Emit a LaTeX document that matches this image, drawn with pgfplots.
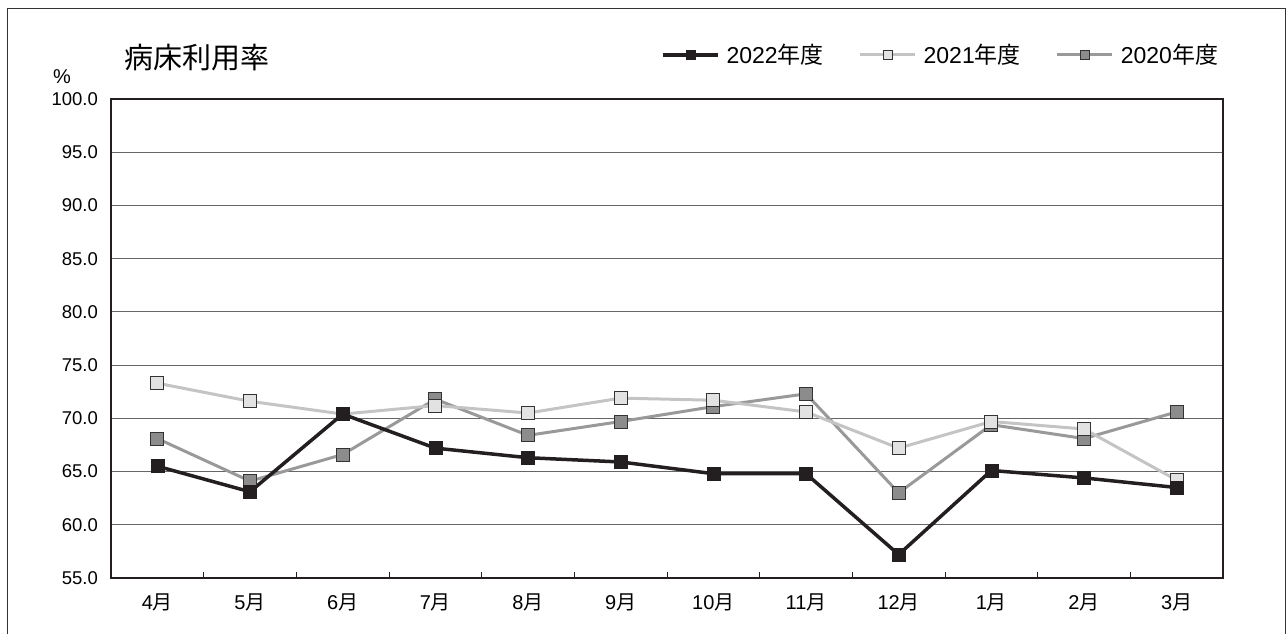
\documentclass[border=0pt]{standalone}
\usepackage{fontspec}
\setmainfont{Liberation Sans}
\newfontfamily\jp{Noto Sans CJK JP}
\usepackage{pgfplots}
\pgfplotsset{compat=1.18}
\usepackage{pgfplotstable}
\definecolor{cblack}{HTML}{231F20}
\definecolor{cgrid}{HTML}{666666}
\definecolor{c21line}{HTML}{C4C4C4}
\definecolor{c21fill}{HTML}{E2E2E2}
\definecolor{c20line}{HTML}{999999}
\definecolor{c20fill}{HTML}{8C8C8C}
\definecolor{cedge}{HTML}{333333}
\newcommand\tsuki{{\jp 月}}
\newcommand\nendo{{\jp 年度}}

\pgfplotstableread{
x y2022 y2021 y2020
0  65.5 73.3 68.1
1  63.1 71.6 64.1
2  70.4 70.4 66.6
3  67.2 71.2 71.8
4  66.3 70.5 68.4
5  65.9 71.9 69.7
6  64.8 71.7 71.1
7  64.8 70.6 72.3
8  57.2 67.2 63.0
9  65.1 69.7 69.4
10 64.4 69.0 68.1
11 63.5 64.2 70.6
}\datatable

\begin{document}
\begin{tikzpicture}
\path[use as bounding box] (0,0) rectangle (1287pt,634pt);
\draw[line width=1pt, cedge] (7.5pt,-2pt) -- (7.5pt,625pt) -- (1285.5pt,625pt) -- (1285.5pt,-2pt);
\begin{axis}[
  at={(111pt,56pt)}, anchor=south west,
  scale only axis, width=1112pt, height=479pt,
  xmin=-0.5, xmax=11.5, ymin=55, ymax=100,
  xtick={0,...,11},
  xticklabels={4\tsuki,5\tsuki,6\tsuki,7\tsuki,8\tsuki,9\tsuki,10\tsuki,11\tsuki,12\tsuki,1\tsuki,2\tsuki,3\tsuki},
  minor xtick={0.5,1.5,...,10.5},
  ytick={55,60,...,100},
  major tick length=0pt,
  minor tick length=6pt,
  tick align=inside,
  xtick pos=bottom, ytick pos=left,
  minor tick style={line width=1pt, cblack},
  ymajorgrids,
  grid style={line width=0.9pt, cgrid},
  axis line style={line width=2pt, cblack},
  /pgf/number format/assume math mode=true,
  yticklabel style={/pgf/number format/fixed, /pgf/number format/fixed zerofill, /pgf/number format/precision=1,
    font=\fontsize{18.5}{18.5}\selectfont, anchor=east, inner sep=0pt, xshift=-13pt},
  xticklabel style={font=\fontsize{20}{20}\selectfont, anchor=center, inner sep=0pt, yshift=-24pt},
  reverse legend,
  legend columns=3,
  legend style={draw=none, fill=none, inner sep=0pt, outer sep=0pt,
    at={(axis description cs:0.9955,1.092)}, anchor=east,
    font=\fontsize{23}{23}\selectfont,
    nodes={inner sep=0pt},
    /tikz/every odd column/.append style={column sep=7pt},
    /tikz/every even column/.append style={column sep=35pt}},
  legend image code/.code={
    \draw[#1] (0pt,0pt) -- (55pt,0pt);
    \draw[#1, mark size=4.5pt] plot coordinates {(27.5pt,0pt)};
  },
]
\addplot[c20line, line width=3pt, mark=square*, mark size=6.5pt,
  mark options={fill=c20fill, draw=cedge, line width=1pt}]
  table[x=x, y=y2020] {\datatable};
\addlegendentry{2020\nendo}
\addplot[c21line, line width=3pt, mark=square*, mark size=6.5pt,
  mark options={fill=c21fill, draw=cedge, line width=1pt}]
  table[x=x, y=y2021] {\datatable};
\addlegendentry{2021\nendo}
\addplot[cblack, line width=3.5pt, mark=square*, mark size=6.5pt,
  mark options={fill=cblack, draw=cblack, line width=0.5pt}]
  table[x=x, y=y2022] {\datatable};
\addlegendentry{2022\nendo}
\end{axis}
\node[anchor=west, inner sep=0pt, font=\fontsize{20}{20}\selectfont] at (53pt,557pt) {\%};
\node[anchor=west, inner sep=0pt, font=\fontsize{29}{29}\selectfont\jp] at (124pt,576pt) {病床利用率};
\end{tikzpicture}
\end{document}
